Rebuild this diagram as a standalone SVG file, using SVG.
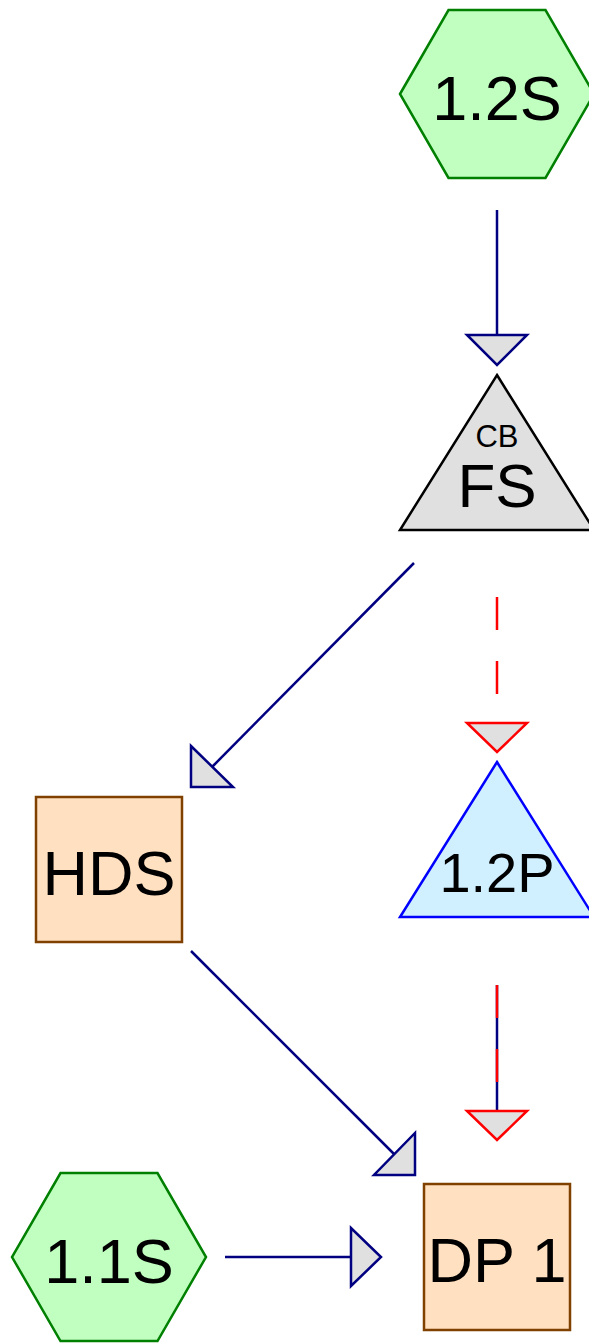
<svg xmlns="http://www.w3.org/2000/svg" width="589" height="1343" viewBox="0 0 589 1343">
<style>
text{font-family:"Liberation Sans",Arial,sans-serif;fill:#000;text-anchor:middle}
.hex{fill:#c0ffc0;stroke:#008000;stroke-width:2.5}
.box{fill:#ffe0c0;stroke:#804000;stroke-width:2.5}
.tri{fill:#e0e0e0;stroke:#000;stroke-width:2.5}
.ptri{fill:#d0f0ff;stroke:#0000ff;stroke-width:2.5}
.ln{fill:none;stroke:#000080;stroke-width:2.5}
.dash{fill:none;stroke:#ff0000;stroke-width:2.5;stroke-dasharray:33 31}
.ah{fill:#e0e0e0;stroke:#000080;stroke-width:2.5;stroke-linejoin:miter}
.ahr{fill:#e0e0e0;stroke:#ff0000;stroke-width:2.5;stroke-linejoin:miter}
</style>
<rect width="589" height="1343" fill="#fff"/>
<g id="connectors">
<line class="ln" x1="497" y1="210" x2="497" y2="335"/>
<polygon class="ah" points="467,335 527,335 497,365"/>
<line class="ln" x1="414" y1="563" x2="212" y2="767"/>
<polygon class="ah" points="191,746 233,787 191,787"/>
<line class="dash" x1="497" y1="597" x2="497" y2="723"/>
<polygon class="ahr" points="467,723 527,723 497,752"/>
<line class="ln" x1="497" y1="985" x2="497" y2="1111"/>
<line class="dash" x1="497" y1="985" x2="497" y2="1111"/>
<polygon class="ahr" points="467,1111 527,1111 497,1140"/>
<line class="ln" x1="191" y1="951" x2="394" y2="1154"/>
<polygon class="ah" points="415,1133 415,1175 374,1175"/>
<line class="ln" x1="225" y1="1257" x2="351" y2="1257"/>
<polygon class="ah" points="351,1228 351,1286 381,1257"/>
</g>
<g id="n12S">
<polygon class="hex" points="400,94 448.5,10 545.5,10 594,94 545.5,178 448.5,178"/>
<text x="497" y="120" font-size="63">1.2S</text>
</g>
<g id="nFS">
<polygon class="tri" points="497,375 594,530 400,530"/>
<text x="497" y="447" font-size="31">CB</text>
<text x="497" y="507" font-size="62">FS</text>
</g>
<g id="n12P">
<polygon class="ptri" points="497,762 594,917 400,917"/>
<text x="497" y="892" font-size="56">1.2P</text>
</g>
<g id="nHDS">
<rect class="box" x="36" y="797" width="146" height="145"/>
<text x="109" y="895" font-size="63">HDS</text>
</g>
<g id="nDP1">
<rect class="box" x="424" y="1184" width="146" height="146"/>
<text x="497" y="1282" font-size="63">DP 1</text>
</g>
<g id="n11S">
<polygon class="hex" points="12,1257 60.5,1173 157.5,1173 206,1257 157.5,1341 60.5,1341"/>
<text x="109" y="1283" font-size="63">1.1S</text>
</g>
</svg>
